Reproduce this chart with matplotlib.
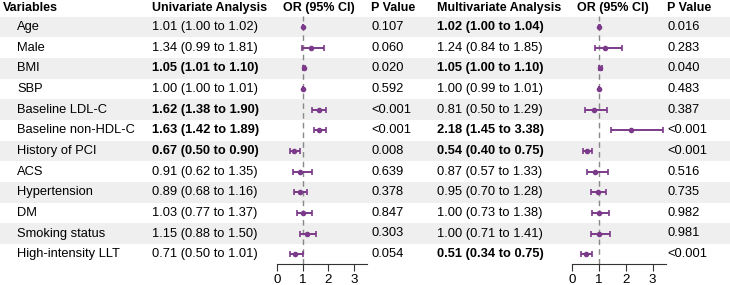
import numpy as np
import matplotlib.pyplot as plt

plt.rcParams['font.family'] = ['Liberation Sans', 'DejaVu Sans']

variables = ['Age', 'Male', 'BMI', 'SBP', 'Baseline LDL-C', 'Baseline non-HDL-C',
             'History of PCI', 'ACS', 'Hypertension', 'DM', 'Smoking status',
             'High-intensity LLT']

uni_or = [1.01, 1.34, 1.05, 1.00, 1.62, 1.63, 0.67, 0.91, 0.89, 1.03, 1.15, 0.71]
uni_lo = [1.00, 0.99, 1.01, 1.00, 1.38, 1.42, 0.50, 0.62, 0.68, 0.77, 0.88, 0.50]
uni_hi = [1.02, 1.81, 1.10, 1.01, 1.90, 1.89, 0.90, 1.35, 1.16, 1.37, 1.50, 1.01]
uni_p = ['0.107', '0.060', '0.020', '0.592', '<0.001', '<0.001', '0.008', '0.639',
         '0.378', '0.847', '0.303', '0.054']
uni_bold = [False, False, True, False, True, True, True, False, False, False, False, False]

multi_or = [1.02, 1.24, 1.05, 1.00, 0.81, 2.18, 0.54, 0.87, 0.95, 1.00, 1.00, 0.51]
multi_lo = [1.00, 0.84, 1.00, 0.99, 0.50, 1.45, 0.40, 0.57, 0.70, 0.73, 0.71, 0.34]
multi_hi = [1.04, 1.85, 1.10, 1.01, 1.29, 3.38, 0.75, 1.33, 1.28, 1.38, 1.41, 0.75]
multi_p = ['0.016', '0.283', '0.040', '0.483', '0.387', '<0.001', '<0.001', '0.516',
           '0.735', '0.982', '0.981', '<0.001']
multi_bold = [True, False, True, False, False, True, True, False, False, False, False, True]

W, H = 730, 285
purple = '#7B3A8A'
fs = 9.3
row0, step = 27.0, 20.65
n = len(variables)
ys = [row0 + i * step for i in range(n)]

fig = plt.figure(figsize=(W / 100, H / 100), dpi=100)
bg = fig.add_axes([0, 0, 1, 1])
bg.set_xlim(0, W)
bg.set_ylim(H, 0)
bg.axis('off')

# alternating row shading
for i, y in enumerate(ys):
    if i % 2 == 0:
        bg.add_patch(plt.Rectangle((0, y - step / 2), W, step, color='#EFEFEF', lw=0, zorder=0))

headers = [(3, 'Variables'), (152, 'Univariate Analysis'), (283, 'OR (95% CI)'),
           (371, 'P Value'), (437, 'Multivariate Analysis'), (577, 'OR (95% CI)'),
           (667, 'P Value')]
for x, t in headers:
    bg.text(x, 8, t, fontsize=9.0, fontweight='bold', va='center', ha='left')

def fmt(o, l, h):
    return f'{o:.2f} ({l:.2f} to {h:.2f})'

for i, y in enumerate(ys):
    bg.text(17, y, variables[i], fontsize=fs, va='center')
    bg.text(152, y, fmt(uni_or[i], uni_lo[i], uni_hi[i]), fontsize=fs, va='center',
            fontweight='bold' if uni_bold[i] else 'normal')
    bg.text(371, y, uni_p[i], fontsize=fs, va='center')
    bg.text(437, y, fmt(multi_or[i], multi_lo[i], multi_hi[i]), fontsize=fs, va='center',
            fontweight='bold' if multi_bold[i] else 'normal')
    bg.text(667, y, multi_p[i], fontsize=fs, va='center')

axis_y = 264.0

def forest(x0, x1, orv, lo, hi):
    ax = fig.add_axes([x0 / W, 1 - axis_y / H, (x1 - x0) / W, (axis_y - 16) / H])
    ax.set_xlim(0, 3.5)
    ax.set_ylim(axis_y, 16)
    ax.patch.set_alpha(0)
    for s in ['top', 'right', 'left']:
        ax.spines[s].set_visible(False)
    ax.spines['bottom'].set_linewidth(0.8)
    ax.spines['bottom'].set_color('#333333')
    ax.set_yticks([])
    ax.set_xticks([0, 1, 2, 3])
    ax.tick_params(axis='x', length=5, width=0.8, color='#333333', labelsize=fs + 0.3, pad=2)
    ax.axvline(1, color='#888888', ls=(0, (4, 3)), lw=1)
    orv = np.array(orv)
    err = [orv - np.array(lo), np.array(hi) - orv]
    ax.errorbar(orv, ys, xerr=err, fmt='o', color=purple, ms=3, elinewidth=1.4,
                capsize=2.5, capthick=1.2)
    return ax

forest(277, 367, uni_or, uni_lo, uni_hi)
forest(572, 666, multi_or, multi_lo, multi_hi)

fig.savefig('out.png', dpi=100)
